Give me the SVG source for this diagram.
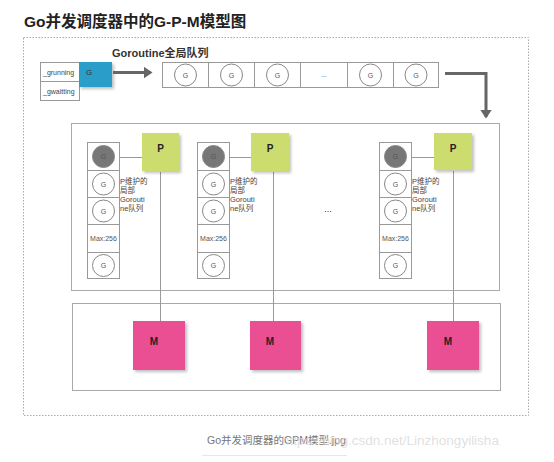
<svg xmlns="http://www.w3.org/2000/svg" width="554" height="462" viewBox="0 0 554 462">
<style>
.t{font-family:"Liberation Sans","Noto Sans CJK SC",sans-serif}
.cell{fill:#fff;stroke:#999;stroke-width:1}
.circ{fill:#fff;stroke:#888;stroke-width:1}
.gl{font-family:"Liberation Sans",sans-serif;font-size:7px;fill:#555;text-anchor:middle}
.ln{stroke:#999;stroke-width:1;fill:none}
.p{fill:#cddc6e}
.m{fill:#e94f92}
.lbl{font-family:"Liberation Sans",sans-serif;font-weight:bold;font-size:10px;fill:#222;text-anchor:middle}
.side{font-family:"Liberation Sans","Noto Sans CJK SC",sans-serif;font-size:7.5px;fill:#444}
</style>
<defs>
<filter id="sh" x="-20%" y="-20%" width="150%" height="150%">
<feDropShadow dx="2" dy="2" stdDeviation="1.5" flood-color="#000" flood-opacity="0.25"/>
</filter>
<marker id="ah" markerWidth="4" markerHeight="4" refX="2.5" refY="2" orient="auto" markerUnits="strokeWidth">
<path d="M0,0 L3,2 L0,4 Z" fill="#666"/>
</marker>
</defs>
<rect width="554" height="462" fill="#fff"/>
<text class="t" x="24" y="27" font-size="15.5" font-weight="bold" fill="#222">Go并发调度器中的G-P-M模型图</text>
<rect x="23.5" y="37.5" width="505" height="378" fill="none" stroke="#aaa" stroke-width="1" stroke-dasharray="1.5,1.5"/>
<text class="t" x="112" y="57" font-size="11" font-weight="bold" fill="#333">Goroutine全局队列</text>

<g id="running-state">
<rect class="cell" x="40.5" y="62.5" width="39" height="19"/>
<rect class="cell" x="40.5" y="81.5" width="39" height="19"/>
<text class="t" x="43" y="75" font-size="7" fill="#444">_grunning</text>
<text class="t" x="43" y="94" font-size="7" fill="#444">_gwaitting</text>
<rect x="79" y="62" width="33" height="25" fill="#2a9ec9" filter="url(#sh)"/>
<text class="t" x="86" y="75" font-size="8" fill="#333">G</text>
</g>

<g id="global-queue">
<rect class="cell" x="162.5" y="62.5" width="276" height="25"/>
<line class="ln" x1="208.5" y1="62.5" x2="208.5" y2="87.5"/>
<line class="ln" x1="254.5" y1="62.5" x2="254.5" y2="87.5"/>
<line class="ln" x1="300.5" y1="62.5" x2="300.5" y2="87.5"/>
<line class="ln" x1="347.5" y1="62.5" x2="347.5" y2="87.5"/>
<line class="ln" x1="393.5" y1="62.5" x2="393.5" y2="87.5"/>
<circle class="circ" cx="185.5" cy="75" r="11"/><text class="gl" x="185.5" y="77.5">G</text>
<circle class="circ" cx="231.5" cy="75" r="11"/><text class="gl" x="231.5" y="77.5">G</text>
<circle class="circ" cx="277.5" cy="75" r="11"/><text class="gl" x="277.5" y="77.5">G</text>
<text class="gl" x="324" y="77" fill="#999">...</text>
<circle class="circ" cx="370.5" cy="75" r="11"/><text class="gl" x="370.5" y="77.5">G</text>
<circle class="circ" cx="416" cy="75" r="11"/><text class="gl" x="416" y="77.5">G</text>
</g>

<g id="p-area">
<rect x="71.5" y="123.5" width="428" height="167" fill="none" stroke="#aaa" stroke-width="1"/>
</g>
<g id="m-area">
<rect x="72.5" y="303.5" width="428" height="87" fill="none" stroke="#aaa" stroke-width="1"/>
</g>

<g id="connectors">
<line x1="113" y1="72.5" x2="151" y2="72.5" stroke="#666" stroke-width="3" marker-end="url(#ah)"/>
<polyline points="445,73.5 486,73.5 486,117" fill="none" stroke="#666" stroke-width="3" marker-end="url(#ah)"/>
<line class="ln" x1="119" y1="157.5" x2="142" y2="157.5"/>
<line class="ln" x1="229" y1="157.5" x2="251" y2="157.5"/>
<line class="ln" x1="412" y1="157.5" x2="434" y2="157.5"/>
<line class="ln" x1="160.5" y1="172" x2="160.5" y2="321"/>
<line class="ln" x1="273.5" y1="172" x2="273.5" y2="321"/>
<line class="ln" x1="453.5" y1="171" x2="453.5" y2="321"/>
</g>

<g id="queue1">
<rect class="cell" x="87.5" y="142.5" width="32" height="28"/>
<rect class="cell" x="87.5" y="170.5" width="32" height="27"/>
<rect class="cell" x="87.5" y="197.5" width="32" height="27"/>
<rect class="cell" x="87.5" y="224.5" width="32" height="28"/>
<rect class="cell" x="87.5" y="252.5" width="32" height="26"/>
<circle cx="103.5" cy="156.5" r="11" fill="#777" stroke="#888"/><text class="gl" x="103.5" y="159">G</text>
<circle class="circ" cx="103.5" cy="184" r="11"/><text class="gl" x="103.5" y="186.5">G</text>
<circle class="circ" cx="103.5" cy="211" r="11"/><text class="gl" x="103.5" y="213.5">G</text>
<text class="gl" x="103.5" y="241" font-size="7.5">Max:256</text>
<circle class="circ" cx="103.5" cy="265.5" r="11"/><text class="gl" x="103.5" y="268">G</text>
<text class="side" x="120" y="184">P维护的</text>
<text class="side" x="120" y="193">局部</text>
<text class="side" x="120" y="202">Gorouti</text>
<text class="side" x="120" y="211">ne队列</text>
</g>
<g id="queue2">
<rect class="cell" x="197.5" y="142.5" width="32" height="28"/>
<rect class="cell" x="197.5" y="170.5" width="32" height="27"/>
<rect class="cell" x="197.5" y="197.5" width="32" height="27"/>
<rect class="cell" x="197.5" y="224.5" width="32" height="28"/>
<rect class="cell" x="197.5" y="252.5" width="32" height="26"/>
<circle cx="213.5" cy="156.5" r="11" fill="#777" stroke="#888"/><text class="gl" x="213.5" y="159">G</text>
<circle class="circ" cx="213.5" cy="184" r="11"/><text class="gl" x="213.5" y="186.5">G</text>
<circle class="circ" cx="213.5" cy="211" r="11"/><text class="gl" x="213.5" y="213.5">G</text>
<text class="gl" x="213.5" y="241" font-size="7.5">Max:256</text>
<circle class="circ" cx="213.5" cy="265.5" r="11"/><text class="gl" x="213.5" y="268">G</text>
<text class="side" x="230" y="184">P维护的</text>
<text class="side" x="230" y="193">局部</text>
<text class="side" x="230" y="202">Gorouti</text>
<text class="side" x="230" y="211">ne队列</text>
</g>
<text class="t" x="328" y="212" font-size="9" fill="#333" text-anchor="middle">...</text>
<g id="queue3">
<rect class="cell" x="379.5" y="142.5" width="32" height="28"/>
<rect class="cell" x="379.5" y="170.5" width="32" height="27"/>
<rect class="cell" x="379.5" y="197.5" width="32" height="27"/>
<rect class="cell" x="379.5" y="224.5" width="32" height="28"/>
<rect class="cell" x="379.5" y="252.5" width="32" height="26"/>
<circle cx="395.5" cy="156.5" r="11" fill="#777" stroke="#888"/><text class="gl" x="395.5" y="159">G</text>
<circle class="circ" cx="395.5" cy="184" r="11"/><text class="gl" x="395.5" y="186.5">G</text>
<circle class="circ" cx="395.5" cy="211" r="11"/><text class="gl" x="395.5" y="213.5">G</text>
<text class="gl" x="395.5" y="241" font-size="7.5">Max:256</text>
<circle class="circ" cx="395.5" cy="265.5" r="11"/><text class="gl" x="395.5" y="268">G</text>
<text class="side" x="412" y="184">P维护的</text>
<text class="side" x="412" y="193">局部</text>
<text class="side" x="412" y="202">Gorouti</text>
<text class="side" x="412" y="211">ne队列</text>
</g>

<g id="p1"><rect class="p" x="142" y="133" width="37" height="38" filter="url(#sh)"/><text class="lbl" x="160.5" y="152">P</text></g>
<g id="p2"><rect class="p" x="251" y="133" width="38" height="38" filter="url(#sh)"/><text class="lbl" x="270" y="152">P</text></g>
<g id="p3"><rect class="p" x="434" y="133" width="38" height="37" filter="url(#sh)"/><text class="lbl" x="453" y="152">P</text></g>

<g id="m1"><rect class="m" x="133" y="321" width="52" height="49" filter="url(#sh)"/><text class="lbl" x="154" y="345" font-size="9">M</text></g>
<g id="m2"><rect class="m" x="250" y="321" width="51" height="49" filter="url(#sh)"/><text class="lbl" x="270" y="345" font-size="9">M</text></g>
<g id="m3"><rect class="m" x="427" y="321" width="52" height="49" filter="url(#sh)"/><text class="lbl" x="448" y="345" font-size="9">M</text></g>

<text class="t" x="207" y="444" font-size="10.5" fill="#777">Go并发调度器的GPM模型.jpg</text>
<line x1="202" y1="455.5" x2="347" y2="455.5" stroke="#e6e6e6" stroke-width="1"/>
<text class="t" x="282" y="445" font-size="13.5" fill="#d8d8d8" fill-opacity="0.8">https://blog.csdn.net/Linzhongyilisha</text>
</svg>
